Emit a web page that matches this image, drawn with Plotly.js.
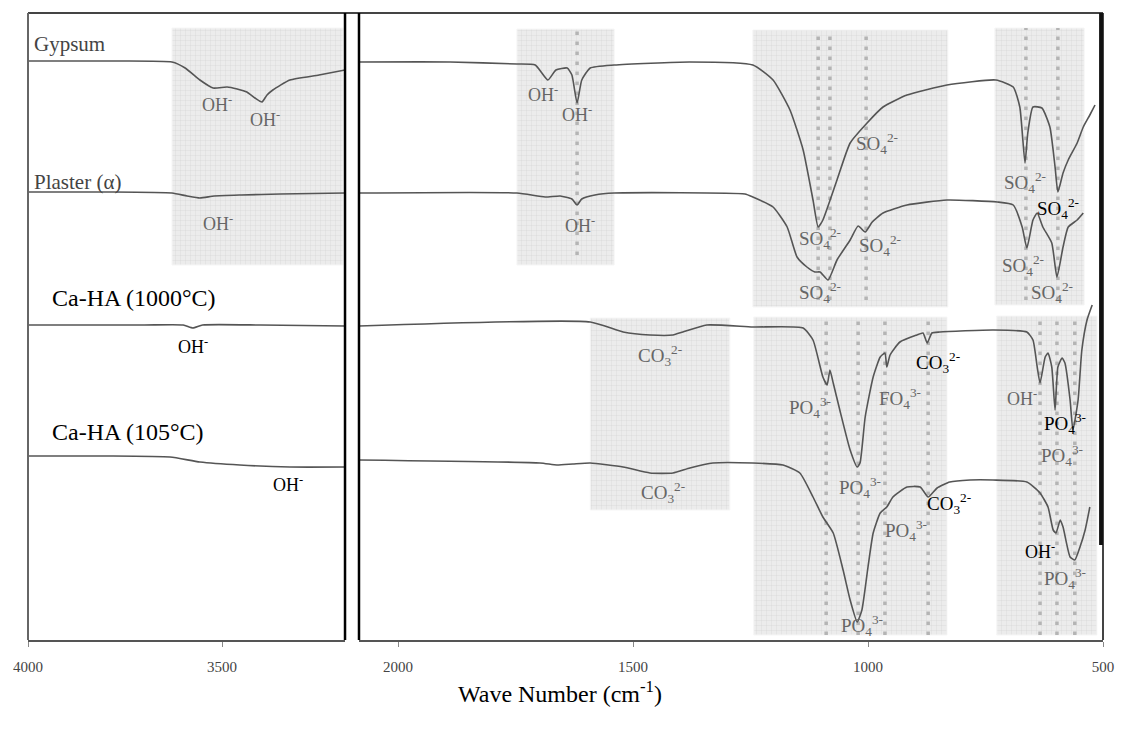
<!DOCTYPE html>
<html>
<head>
<meta charset="utf-8">
<script src="https://cdn.plot.ly/plotly-3.0.1.min.js"></script>
<style>html,body{margin:0;padding:0;background:#fff;}#chart{width:1121px;height:731px;}</style>
</head>
<body>
<div id="chart"></div>
<script>
// ---------- spectra (wavenumber cm-1, offset transmittance, arbitrary units) ----------
// high-wavenumber window (4000 - ~3180)
const gypsumHiWn  = [4000, 3800, 3629, 3595, 3557, 3523, 3487, 3461, 3436, 3415, 3397, 3384, 3369, 3325, 3250, 3183];
const gypsumHiT   = [579, 579, 578, 572, 560, 552, 553, 551, 548, 542, 538, 545, 550, 560, 565, 570];
const plasterHiWn = [4000, 3800, 3629, 3590, 3557, 3520, 3450, 3350, 3183];
const plasterHiT  = [448, 448, 447, 444, 442, 444, 445, 446, 447];
const ha1000HiWn  = [4000, 3700, 3600, 3575, 3550, 3400, 3183];
const ha1000HiT   = [315, 315, 315, 312, 315, 315, 314];
const ha105HiWn   = [4000, 3800, 3634, 3557, 3454, 3325, 3183];
const ha105HiT    = [184, 184, 183, 178, 175, 173, 173];

// low-wavenumber window (~2080 - 500)
const gypsumLoWn = [2083, 1889, 1747, 1708, 1681, 1664, 1640, 1630, 1619, 1609, 1591, 1540, 1379, 1245, 1202, 1166, 1138, 1117, 1106, 1096, 1066, 1038, 1002, 968, 917, 832, 728, 691, 677, 666, 660, 649, 630, 613, 602, 596, 585, 574, 555, 542, 528, 517];
const gypsumLoT  = [578, 578, 576, 575, 560, 570, 572, 565, 537, 560, 572, 575, 578, 575, 560, 530, 490, 440, 413, 420, 460, 497, 517, 533, 545, 555, 560, 553, 533, 477, 507, 533, 532, 513, 473, 448, 467, 480, 497, 513, 525, 535];
const plasterLoWn = [2083, 1747, 1687, 1655, 1630, 1619, 1609, 1581, 1540, 1262, 1245, 1202, 1172, 1151, 1130, 1113, 1102, 1085, 1066, 1038, 1021, 1006, 991, 968, 917, 832, 725, 691, 672, 662, 649, 640, 628, 609, 598, 585, 574, 555, 542];
const plasterLoT  = [447, 447, 443, 444, 441, 435, 441, 445, 447, 446, 443, 433, 413, 383, 373, 368, 368, 360, 380, 400, 414, 408, 418, 427, 435, 440, 438, 435, 413, 392, 420, 427, 413, 397, 363, 393, 413, 420, 427];
const ha1000LoWn = [2083, 1591, 1521, 1464, 1415, 1394, 1343, 1245, 1138, 1117, 1096, 1087, 1081, 1074, 1060, 1038, 1023, 1017, 1006, 989, 974, 964, 960, 953, 932, 896, 883, 874, 864, 847, 734, 662, 649, 640, 634, 623, 617, 609, 602, 596, 587, 581, 570, 564, 553, 545, 534, 523];
const ha1000LoT  = [314, 318, 308, 305, 305, 308, 315, 313, 312, 300, 263, 255, 270, 257, 230, 190, 173, 177, 223, 263, 283, 287, 273, 285, 298, 305, 307, 297, 307, 308, 310, 308, 300, 273, 257, 283, 287, 273, 230, 273, 282, 277, 240, 210, 240, 290, 320, 335];
const ha105LoWn = [2083, 1698, 1662, 1628, 1591, 1521, 1464, 1415, 1379, 1330, 1245, 1181, 1145, 1117, 1096, 1074, 1053, 1038, 1023, 1013, 1000, 989, 974, 960, 947, 917, 889, 872, 853, 826, 783, 734, 662, 634, 617, 606, 600, 591, 585, 570, 560, 549, 538, 528];
const ha105LoT  = [180, 177, 175, 176, 177, 173, 167, 167, 172, 177, 177, 175, 167, 143, 123, 107, 70, 40, 18, 30, 73, 107, 127, 133, 143, 153, 153, 143, 152, 158, 160, 160, 158, 147, 133, 110, 107, 120, 113, 83, 80, 93, 110, 133];

// ---------- sample names and band assignments ----------
const sampleNames = ['Gypsum', 'Plaster (α)', 'Ca-HA (1000°C)', 'Ca-HA (105°C)'];
const OH = 'OH<sup>-</sup>', SO4 = 'SO<sub>4</sub><sup>2-</sup>', PO4 = 'PO<sub>4</sub><sup>3-</sup>',
      CO3 = 'CO<sub>3</sub><sup>2-</sup>', FO4 = 'FO<sub>4</sub><sup>3-</sup>';
// [text, wavenumber, level, axis, dark?]
const bandLabels = [
  [OH, 3513, 537, 'x', 0], [OH, 3389, 522, 'x', 0], [OH, 3510, 418, 'x', 0],
  [OH, 3575, 295, 'x', 1], [OH, 3330, 157, 'x', 1],
  [OH, 1691, 547, 'x2', 0], [OH, 1619, 527, 'x2', 0], [OH, 1613, 416, 'x2', 0],
  [SO4, 981, 497, 'x2', 0], [SO4, 1102, 402, 'x2', 0], [SO4, 974, 395, 'x2', 0], [SO4, 1102, 348, 'x2', 0],
  [SO4, 666, 458, 'x2', 0], [SO4, 596, 432, 'x2', 1], [SO4, 670, 375, 'x2', 0], [SO4, 608, 348, 'x2', 0],
  [CO3, 1443, 285, 'x2', 0], [CO3, 1436, 148, 'x2', 0],
  [PO4, 1123, 233, 'x2', 0], [FO4, 932, 242, 'x2', 0], [CO3, 851, 278, 'x2', 1],
  [PO4, 1017, 153, 'x2', 0], [PO4, 919, 110, 'x2', 0], [CO3, 828, 137, 'x2', 1], [PO4, 1013, 15, 'x2', 0],
  [OH, 672, 243, 'x2', 0], [PO4, 581, 217, 'x2', 1], [PO4, 587, 185, 'x2', 0],
  [OH, 634, 90, 'x2', 1], [PO4, 581, 62, 'x2', 0]
];
// highlighted band regions: [wn from, wn to, level low, level high, axis]
const regions = [
  [3629, 3188, 375, 612, 'x'],
  [1747, 1540, 375, 611, 'x2'],
  [1245, 830, 333, 610, 'x2'],
  [730, 540, 335, 612, 'x2'],
  [1591, 1294, 130, 322, 'x2'],
  [1243, 832, 5, 323, 'x2'],
  [726, 513, 5, 324, 'x2']
];
// marked band positions: [wn, level low, level high]
const markers = [
  [1619, 385, 611],
  [1106, 340, 610], [1081, 340, 610], [1004, 340, 610],
  [664, 340, 612], [596, 340, 612],
  [1089, 5, 323], [1021, 5, 323], [964, 5, 323], [872, 5, 323],
  [634, 5, 324], [598, 5, 324], [560, 5, 324]
];

const serif = 'Liberation Serif, Times New Roman, serif';
const traces = [];
regions.forEach(r => {
  traces.push({
    x: [r[0], r[1], r[1], r[0], r[0]], y: [r[2], r[2], r[3], r[3], r[2]],
    xaxis: r[4], yaxis: 'y', mode: 'lines', fill: 'toself',
    fillcolor: '#ebebeb',
    fillpattern: {shape: '+', bgcolor: '#ececec', fgcolor: '#d2d2d2', size: 5, solidity: 0.12},
    line: {width: 1, color: '#f6f6f6'}, hoverinfo: 'skip', showlegend: false
  });
});
markers.forEach(m => {
  traces.push({
    x: [m[0], m[0]], y: [m[1], m[2]], xaxis: m[0] > 2100 ? 'x' : 'x2', yaxis: 'y',
    mode: 'lines', line: {color: '#b4b4b4', width: 3.5, dash: '3.5px,6.5px'},
    hoverinfo: 'skip', showlegend: false
  });
});
const spec = [
  [gypsumHiWn, gypsumHiT, 'x'], [plasterHiWn, plasterHiT, 'x'], [ha1000HiWn, ha1000HiT, 'x'], [ha105HiWn, ha105HiT, 'x'],
  [gypsumLoWn, gypsumLoT, 'x2'], [plasterLoWn, plasterLoT, 'x2'], [ha1000LoWn, ha1000LoT, 'x2'], [ha105LoWn, ha105LoT, 'x2']
];
spec.forEach(s => {
  traces.push({
    x: s[0], y: s[1], xaxis: s[2], yaxis: 'y', mode: 'lines',
    line: {color: '#555', width: 1.6, shape: 'spline', smoothing: 0.5},
    hoverinfo: 'skip', showlegend: false
  });
});

const annotations = [];
const nameLevels = [596, 458, 342, 208];
const nameSizes = [21, 21, 24, 24];
sampleNames.forEach((n, i) => {
  annotations.push({
    text: n, x: i < 2 ? 3990 : 3943, y: nameLevels[i], xref: 'x', yref: 'y',
    xanchor: 'left', yanchor: 'middle', showarrow: false,
    font: {family: serif, size: nameSizes[i], color: i < 2 ? '#444' : '#000'}
  });
});
bandLabels.forEach(b => {
  const big = b[0] !== OH;
  annotations.push({
    text: b[0], x: b[1], y: b[2], xref: b[3], yref: 'y', showarrow: false,
    xanchor: 'center', yanchor: 'middle',
    font: {family: serif, size: big ? 19 : 18, color: b[4] ? '#000' : '#666'}
  });
});
annotations.push({
  text: 'Wave Number (cm<sup>-1</sup>)', xref: 'paper', yref: 'paper', x: 0.495, y: -0.083,
  xanchor: 'center', yanchor: 'middle', showarrow: false,
  font: {family: serif, size: 24, color: '#000'}
});

const axisCommon = {
  showgrid: false, zeroline: false, showline: true, linecolor: '#555', linewidth: 2,
  ticks: 'outside', ticklen: 5, tickcolor: '#888', tickwidth: 1,
  tickfont: {family: serif, size: 15, color: '#444'}, ticklabelstandoff: 7
};
const d1 = 0.2949, d2 = 0.3079;
const layout = {
  width: 1121, height: 731,
  margin: {l: 28, r: 18, t: 13, b: 91},
  paper_bgcolor: '#fff', plot_bgcolor: '#fff',
  showlegend: false,
  xaxis: Object.assign({}, axisCommon, {domain: [0, d1], range: [4000, 3183], tickvals: [4000, 3500], anchor: 'y'}),
  xaxis2: Object.assign({}, axisCommon, {domain: [d2, 1], range: [2083, 500], tickvals: [2000, 1500, 1000, 500], anchor: 'y'}),
  yaxis: {range: [0, 627], visible: false, fixedrange: true},
  annotations: annotations,
  shapes: [
    {type: 'line', xref: 'paper', yref: 'paper', x0: 0, x1: 1, y0: 1, y1: 1, line: {color: '#444', width: 2}},
    {type: 'line', xref: 'paper', yref: 'paper', x0: 0, x1: 0, y0: 0, y1: 1, line: {color: '#666', width: 2}},
    {type: 'line', xref: 'paper', yref: 'paper', x0: d1, x1: d1, y0: 0, y1: 1, line: {color: '#000', width: 2.5}},
    {type: 'line', xref: 'paper', yref: 'paper', x0: d2, x1: d2, y0: 0, y1: 1, line: {color: '#000', width: 2.5}},
    {type: 'line', xref: 'paper', yref: 'paper', x0: 1, x1: 1, y0: 0, y1: 1, line: {color: '#444', width: 2}},
    {type: 'line', xref: 'x2', yref: 'y', x0: 503, x1: 503, y0: 95, y1: 627, line: {color: '#111', width: 5}}
  ]
};
Plotly.newPlot('chart', traces, layout, {staticPlot: true, displayModeBar: false});
</script>
</body>
</html>
